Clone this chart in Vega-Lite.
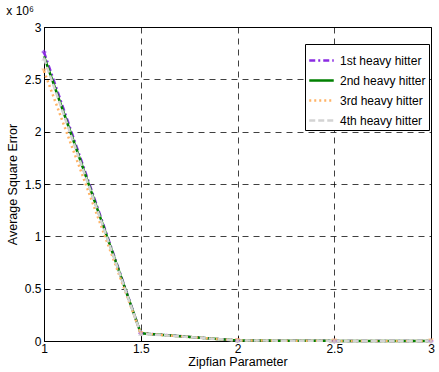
{
  "$schema": "https://vega.github.io/schema/vega-lite/v6.json",
  "autosize": "none",
  "width": 387,
  "height": 314,
  "padding": {"left": 44, "top": 27, "right": 8, "bottom": 31},
  "background": "white",
  "title": {"text": "x 10⁶", "anchor": "start", "offset": 3, "fontSize": 12, "fontWeight": "normal", "font": "Liberation Sans", "color": "black"},
  "config": {
    "font": "Liberation Sans",
    "view": {"stroke": "black", "strokeWidth": 1},
    "axis": {
      "labelFont": "Liberation Sans", "titleFont": "Liberation Sans",
      "labelFontSize": 12, "titleFontSize": 12.5, "titleFontWeight": "normal",
      "labelColor": "black", "titleColor": "black",
      "domain": false, "tickColor": "black", "tickSize": -5,
      "grid": true, "gridColor": "black", "gridOpacity": 0.75, "gridDash": [6, 5], "gridWidth": 1
    }
  },
  "data": {"values": [
    {"z": 1, "err": 2760000, "series": "1st heavy hitter"},
    {"z": 1.5, "err": 75000, "series": "1st heavy hitter"},
    {"z": 2, "err": 5000, "series": "1st heavy hitter"},
    {"z": 2.5, "err": 1000, "series": "1st heavy hitter"},
    {"z": 3, "err": 300, "series": "1st heavy hitter"},
    {"z": 1, "err": 2720000, "series": "2nd heavy hitter"},
    {"z": 1.5, "err": 73000, "series": "2nd heavy hitter"},
    {"z": 2, "err": 5000, "series": "2nd heavy hitter"},
    {"z": 2.5, "err": 1000, "series": "2nd heavy hitter"},
    {"z": 3, "err": 300, "series": "2nd heavy hitter"},
    {"z": 1, "err": 2580000, "series": "3rd heavy hitter"},
    {"z": 1.5, "err": 72000, "series": "3rd heavy hitter"},
    {"z": 2, "err": 5000, "series": "3rd heavy hitter"},
    {"z": 2.5, "err": 1000, "series": "3rd heavy hitter"},
    {"z": 3, "err": 300, "series": "3rd heavy hitter"},
    {"z": 1, "err": 2700000, "series": "4th heavy hitter"},
    {"z": 1.5, "err": 70000, "series": "4th heavy hitter"},
    {"z": 2, "err": 5000, "series": "4th heavy hitter"},
    {"z": 2.5, "err": 1000, "series": "4th heavy hitter"},
    {"z": 3, "err": 300, "series": "4th heavy hitter"}
  ]},
  "encoding": {
    "x": {"field": "z", "type": "quantitative", "scale": {"domain": [1, 3], "nice": false, "zero": false},
          "axis": {"values": [1, 1.5, 2, 2.5, 3], "labelExpr": "datum.value", "title": "Zipfian Parameter", "titlePadding": 1, "labelPadding": 7, "labelFlush": false}},
    "y": {"field": "err", "type": "quantitative", "scale": {"domain": [0, 3000000], "nice": false},
          "axis": {"values": [0, 500000, 1000000, 1500000, 2000000, 2500000, 3000000], "labelExpr": "datum.value / 1000000", "title": "Average Square Error", "titlePadding": 5, "labelPadding": 8}}
  },
  "layer": [
    {"mark": {"type": "line", "strokeWidth": 2.5},
     "encoding": {
       "order": {"field": "series"},
       "color": {"field": "series", "type": "nominal",
                 "scale": {"domain": ["1st heavy hitter", "2nd heavy hitter", "3rd heavy hitter", "4th heavy hitter"],
                           "range": ["#8a2be2", "#008000", "#ffb366", "#d3d3d3"]},
                 "legend": {"title": null, "orient": "none", "legendX": 261, "legendY": 17, "fillColor": "white", "strokeColor": "black", "padding": 3, "rowPadding": -8, "labelFontSize": 12, "labelFont": "Liberation Sans", "labelColor": "black", "symbolType": "stroke", "symbolSize": 600, "symbolStrokeWidth": 2.5, "labelOffset": 5}},
       "strokeDash": {"field": "series", "type": "nominal",
                      "scale": {"domain": ["1st heavy hitter", "2nd heavy hitter", "3rd heavy hitter", "4th heavy hitter"],
                                "range": [[6, 3, 2, 3], [1, 0], [2, 3], [6, 3]]}}
     }},
    {"transform": [{"filter": "datum.series === '1st heavy hitter'"}],
     "mark": {"type": "point", "filled": true, "size": 30, "shape": "diamond", "color": "#8a2be2"}},
    {"transform": [{"filter": "datum.series === '3rd heavy hitter'"}],
     "mark": {"type": "point", "filled": true, "size": 30, "shape": "triangle-down", "color": "#ffb366"}},
    {"transform": [{"filter": "datum.series === '4th heavy hitter'"}],
     "mark": {"type": "point", "filled": true, "size": 30, "shape": "triangle-up", "color": "#d3d3d3"}}
  ]
}
